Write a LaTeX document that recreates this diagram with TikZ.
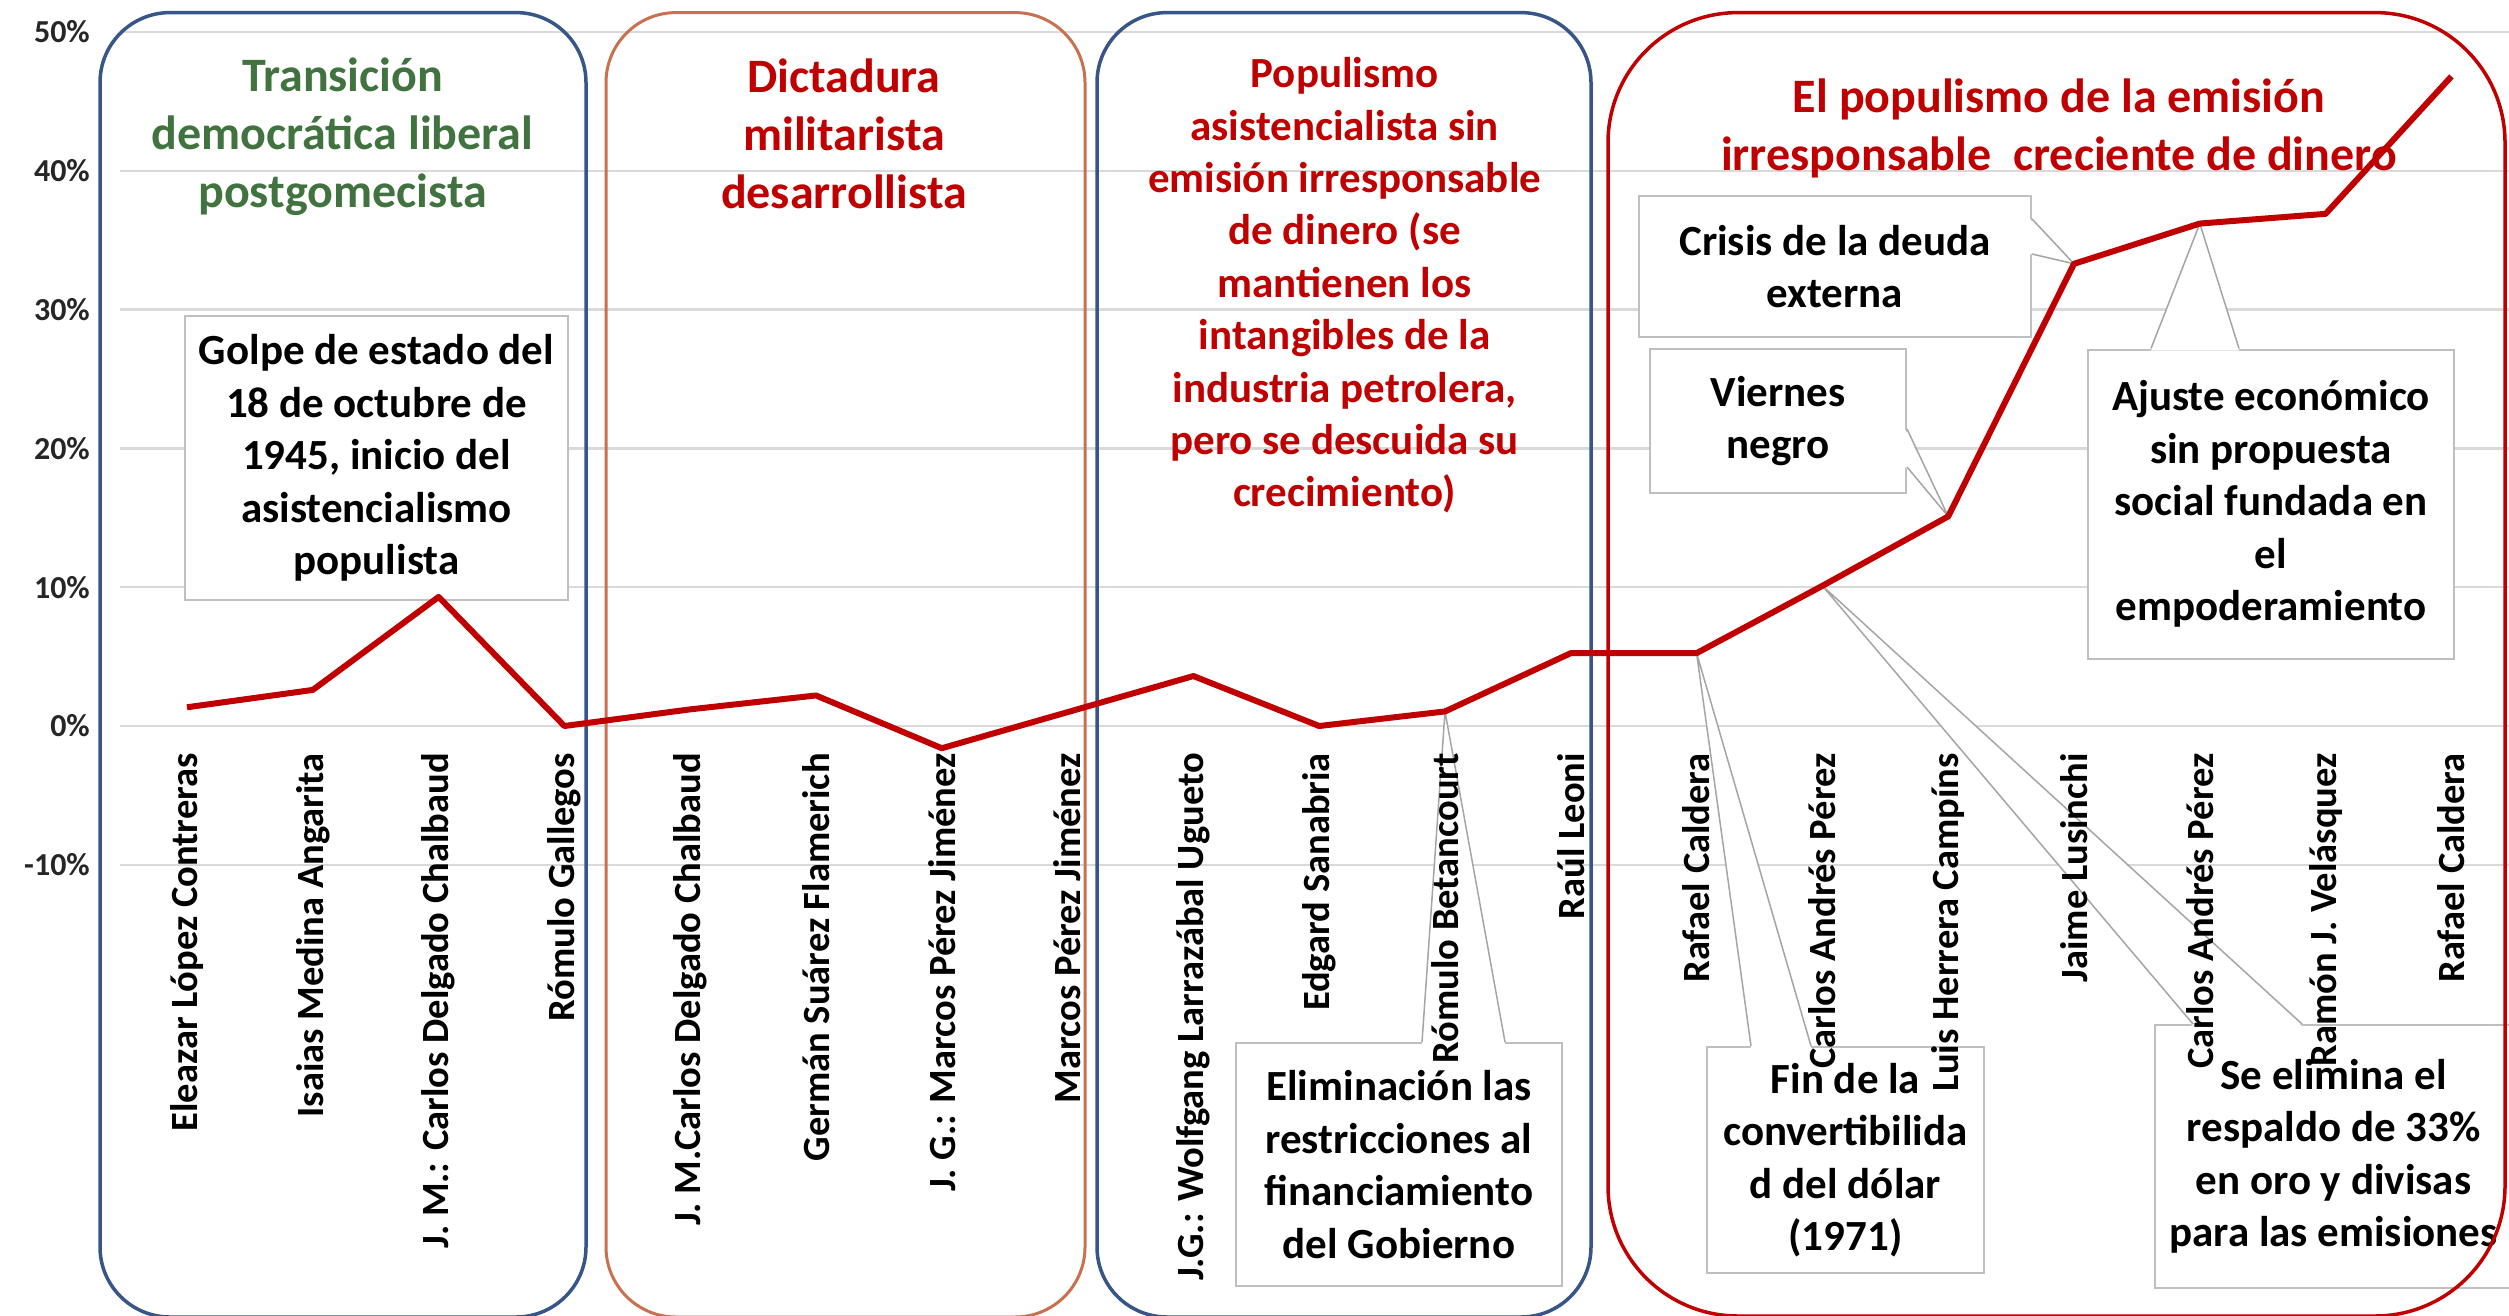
\documentclass[tikz,border=0pt]{standalone}
\usepackage{fontspec}
\setmainfont{Carlito}
\definecolor{gridgray}{RGB}{217,217,217}
\definecolor{axisgray}{RGB}{38,38,38}
\definecolor{callgray}{RGB}{191,191,191}
\definecolor{wedgegray}{RGB}{165,165,165}
\definecolor{linered}{RGB}{192,0,0}
\definecolor{titlered}{RGB}{192,0,0}
\definecolor{titlegreen}{RGB}{65,115,65}
\definecolor{boxblue}{RGB}{56,85,135}
\definecolor{boxbrown}{RGB}{200,112,80}
\definecolor{boxred}{RGB}{192,0,0}
\begin{document}
\begin{tikzpicture}[x=1pt,y=-1pt,
  grid/.style={draw=gridgray,line width=2.5pt},
  ylab/.style={anchor=east,font=\fontsize{32}{38}\selectfont\bfseries,text=axisgray,inner sep=0pt},
  region/.style={line width=3.5pt},
  ttl/.style={align=center,inner sep=0pt,font=\fontsize{48}{58}\selectfont\bfseries},
  ttlsmall/.style={align=center,inner sep=0pt,font=\fontsize{43}{52.4}\selectfont\bfseries},
  callout/.style={draw=callgray,line width=2pt,fill=white,align=center,inner sep=0pt,font=\fontsize{43}{52.5}\selectfont\bfseries},
  wedgefill/.style={fill=white},
  wedge/.style={draw=wedgegray,line width=1.5pt},
  series/.style={draw=linered,line width=6pt,line join=round},
  cat/.style={rotate=90,anchor=east,inner sep=0pt,font=\fontsize{38.5}{46}\selectfont\bfseries}
]
\useasboundingbox (0,0) rectangle (2509,1315);
\clip (0,0) rectangle (2509,1315);
\fill[white] (0,0) rectangle (2509,1315);

% gridlines and axis labels
\foreach \v [count=\k] in {-10,0,10,20,30,40,50}{
  \draw[grid] (120,{726-13.88*\v}) -- (2509,{726-13.88*\v});
  \node[ylab] (yl\k) at (90,{726-13.88*\v}) {\v\%};
}

% data points
\foreach \val [count=\i from 0] in {1.35,2.6,9.3,0,1.2,2.2,-1.6,1.0,3.6,0,1.05,5.25,5.25,10.1,15.1,33.3,36.2,36.9,46.8}{
  \coordinate (p\i) at ({187+125.8*\i},{726-13.88*\val});
}

% callouts
\node[callout,minimum width=383pt,minimum height=284pt] (golpe) at (376.5,458)
  {\raisebox{-3pt}{}Golpe de estado del\\18 de octubre de\\1945, inicio del\\asistencialismo\\populista};

\node[callout,minimum width=392pt,minimum height=141pt] (crisis) at (1835,266.5)
  {Crisis de la deuda\\externa};
\fill[wedgefill] ([yshift=-24pt,xshift=-2pt]crisis.north east) -- (p15) -- ([yshift=-59pt,xshift=-2pt]crisis.north east) -- cycle;
\draw[wedge] ([yshift=-24pt]crisis.north east) -- (p15) -- ([yshift=-59pt]crisis.north east);

\node[callout,minimum width=256pt,minimum height=144pt] (viernes) at (1778,421)
  {Viernes\\negro};
\fill[wedgefill] ([yshift=-81pt,xshift=-2pt]viernes.north east) -- (p14) -- ([yshift=-119pt,xshift=-2pt]viernes.north east) -- cycle;
\draw[wedge] ([yshift=-81pt]viernes.north east) -- (p14) -- ([yshift=-119pt]viernes.north east);

\node[callout,minimum width=366pt,minimum height=309pt] (ajuste) at (2271,504)
  {Ajuste económico\\sin propuesta\\social fundada en\\el\\empoderamiento};
\fill[wedgefill] ([xshift=64pt,yshift=-2pt]ajuste.north west) -- (p16) -- ([xshift=152pt,yshift=-2pt]ajuste.north west) -- cycle;
\draw[wedge] ([xshift=64pt]ajuste.north west) -- (p16) -- ([xshift=152pt]ajuste.north west);

\node[callout,minimum width=326pt,minimum height=243pt] (elim) at (1399,1164.5)
  {Eliminación las\\restricciones al\\financiamiento\\del Gobierno};
\fill[wedgefill] ([xshift=187pt,yshift=-2pt]elim.north west) -- (p10) -- ([xshift=270pt,yshift=-2pt]elim.north west) -- cycle;
\draw[wedge] ([xshift=187pt]elim.north west) -- (p10) -- ([xshift=270pt]elim.north west);

\node[callout,minimum width=277pt,minimum height=226pt] (fin) at (1845.5,1160)
  {Fin de la\\convertibilida\\d del dólar\\(1971)};
\fill[wedgefill] ([xshift=45pt,yshift=-2pt]fin.north west) -- (p12) -- ([xshift=105pt,yshift=-2pt]fin.north west) -- cycle;
\draw[wedge] ([xshift=45pt]fin.north west) -- (p12) -- ([xshift=105pt]fin.north west);

\node[callout,minimum width=357pt,minimum height=263pt] (seelim) at (2333.5,1156.5)
  {Se elimina el\\respaldo de 33\%\\en oro y divisas\\para las emisiones};
\fill[wedgefill] ([xshift=39pt,yshift=-2pt]seelim.north west) -- (p13) -- ([xshift=148pt,yshift=-2pt]seelim.north west) -- cycle;
\draw[wedge] ([xshift=39pt]seelim.north west) -- (p13) -- ([xshift=148pt]seelim.north west);

% regions
\draw[region,draw=boxblue,rounded corners=70pt] (100,12.6) rectangle (586,1317);
\draw[region,draw=boxbrown,line width=3pt,rounded corners=70pt] (606,12.6) rectangle (1085,1317);
\draw[region,draw=boxblue,rounded corners=70pt] (1097,12.6) rectangle (1591,1317);
\draw[region,draw=boxred,rounded corners=130pt] (1608,12.6) rectangle (2505,1316);

% titles
\node[ttl,text=titlegreen] (t1) at (342.6,137) {Transición\\democrática liberal\\postgomecista};
\node[ttl,text=titlered] (t2) at (844,134) {Dictadura\\militarista\\desarrollista};
\node[ttlsmall,text=titlered] (t3) at (1344.6,285.5) {Populismo\\asistencialista sin\\emisión irresponsable\\de dinero (se\\mantienen los\\intangibles de la\\industria petrolera,\\pero se descuida su\\crecimiento)};
\node[ttl,text=titlered] (t4) at (2059,128) {El populismo de la emisión\\irresponsable\ \ creciente de dinero};

% data series
\draw[series] (p0) \foreach \i in {1,...,18}{ -- (p\i)};

% category labels
\foreach \nm [count=\i from 0] in {Eleazar López Contreras,Isaias Medina Angarita,J. M.: Carlos Delgado Chalbaud,Rómulo Gallegos,J. M.Carlos Delgado Chalbaud,Germán Suárez Flamerich,J. G.: Marcos Pérez Jiménez,Marcos Pérez Jiménez,J.G.: Wolfgang Larrazábal Ugueto,Edgard Sanabria,Rómulo Betancourt,Raúl Leoni,Rafael Caldera,Carlos Andrés Pérez,Luis Herrera Campíns,Jaime Lusinchi,Carlos Andrés Pérez,Ramón J. Velásquez,Rafael Caldera}{
  \node[cat] (c\i) at ({187+125.8*\i},753) {\nm};
}
\end{tikzpicture}
\end{document}
